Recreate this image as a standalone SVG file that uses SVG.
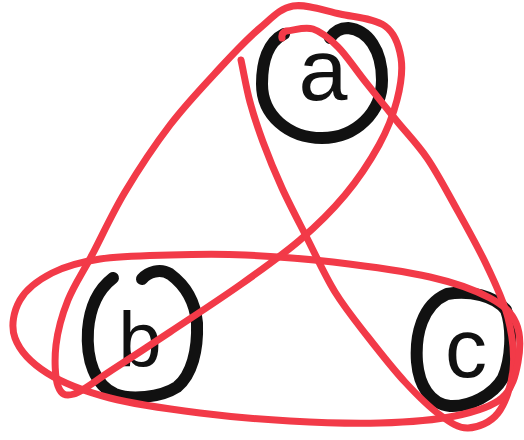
<svg xmlns="http://www.w3.org/2000/svg" width="524" height="440" viewBox="0 0 524 440">
<style>
.ring{fill:none;stroke:#111;stroke-width:12;stroke-linecap:round;stroke-linejoin:round}
.lbl{font-family:"Liberation Sans","DejaVu Sans",sans-serif;fill:#111;text-anchor:middle}
.edge{fill:none;stroke:#f23a48;stroke-width:7;stroke-linecap:round;stroke-linejoin:round}
</style>
<rect width="524" height="440" fill="#fff"/>
<g id="node-a">
<path class="ring" d="M284,34 C268,42 262,62 262,84 C262,115 288,138 322,138 C356,138 382,112 382,80 C382,50 368,30 348,28 C340,28 334,32 330,38"/>
<text class="lbl" x="323" y="100" font-size="88">a</text>
</g>
<g id="node-b">
<path class="ring" d="M113,278 C100,288 90,305 88,330 C86,360 95,385 115,394 C130,400 160,398 177,387 C192,375 198,350 197,323 C195,300 185,285 170,274 C160,268 148,272 142,279"/>
<text class="lbl" x="140" y="367" font-size="78">b</text>
</g>
<g id="node-c">
<path class="ring" d="M447,294 C470,290 495,296 506,310 C513,330 511,360 503,378 C493,395 470,407 450,406 C430,404 419,385 417,362 C415,335 422,305 447,294 Z"/>
<text class="lbl" x="466" y="377" font-size="84">c</text>
</g>
<g id="connectors">
<path id="edge-ab" class="edge" d="M293,6 C306.3,3.7 324.7,10.7 340,14 S374.8,18.7 385,26 S399,45.7 401,58 S400.7,85.5 397,100 S387.7,129.2 379,145 S358.2,179.2 345,195 S317.5,225 300,240 S261.7,269.7 240,285 S191.3,317.8 170,332 S128,359.7 112,370 S83,391.3 74,394 S61,394.2 58,386 S54.3,359.3 56,345 S62,315 68,300 S82.5,273 92,255 S112,213.7 125,192 S154.2,145.7 170,125 S205,84.2 220,68 S247.8,38.3 260,28 S279.7,8.3 293,6 Z"/>
<path id="edge-ac" class="edge" d="M241,60 C244,74 246.3,88.3 250,102 S257.7,127.7 263,142 S274.7,172 282,188 S298.2,220.7 307,238 S324.8,275.5 335,292 S356.3,322 368,337 S393,369 405,382 S429.5,407.3 440,415 S458.3,428.3 468,428 S490.5,422.7 498,413 S511.3,385.8 513,370 S512.3,335.3 508,318 S495.8,284.7 487,266 S465,224 455,206 S436.8,172.3 427,158 S406.5,133 396,120 S373.7,92.2 364,80 S346.5,55.5 338,47 S321.7,31.7 313,29 S295,30.3 286,31 q-5,2 -4,7"/>
<path id="edge-bc" class="edge" d="M100,259 C119.7,256 145.8,255.7 170,255 S217.8,253.8 245,255 S302.2,258.3 333,262 S403.8,271 430,277 S475.7,290.3 490,298 S511.3,312.3 516,323 S520.3,349.5 518,362 S512.5,389 502,398 S475.3,411.8 455,416 S407.5,422.2 380,423 S320,422.7 290,421 S230,416.8 200,413 S135.5,404.7 110,398 S62.8,383 47,373 S19.5,350.2 15,338 S13.8,310.8 20,300 S38.7,279.8 52,273 S80.3,262 100,259 Z"/>
</g>
</svg>
